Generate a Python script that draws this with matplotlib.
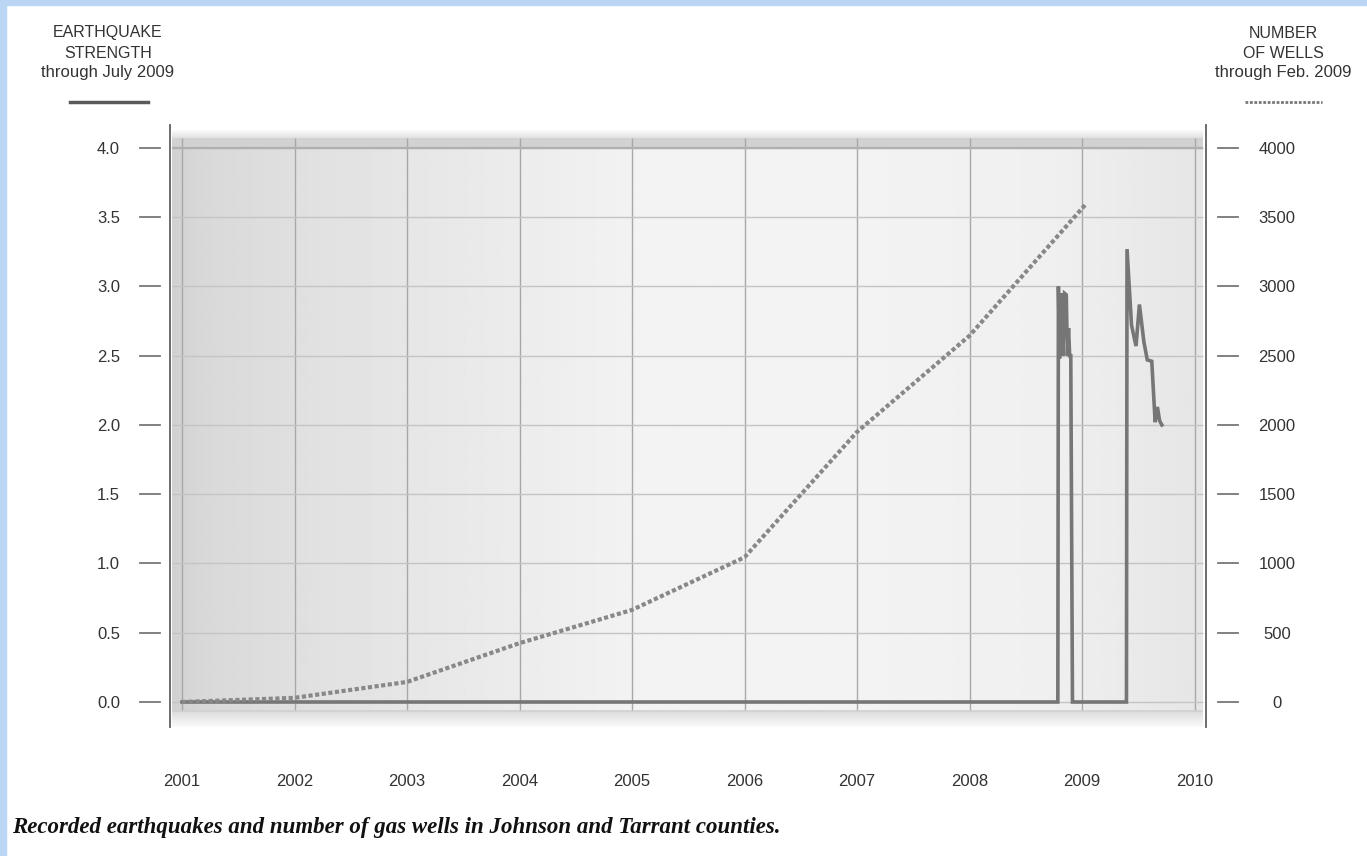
import numpy as np
import matplotlib
matplotlib.use("Agg")
import matplotlib.pyplot as plt
from matplotlib.patches import Rectangle
import matplotlib.transforms as mtransforms

#
# Data
#
well_years = [2001.0, 2002.0, 2003.0, 2004.0, 2005.0, 2006.0, 2007.0, 2008.0, 2009.04]
well_counts = [0, 30, 145, 425, 665, 1045, 1950, 2645, 3600]

quake_t = [2001.0, 2008.785, 2008.79, 2008.80, 2008.815, 2008.83, 2008.845,
           2008.86, 2008.87, 2008.88, 2008.89, 2008.90, 2008.915, 2008.93,
           2009.395, 2009.40, 2009.44, 2009.48, 2009.51, 2009.55, 2009.58,
           2009.62, 2009.65, 2009.67, 2009.69, 2009.71]
quake_m = [0, 0, 3.0, 2.48, 2.95, 2.5, 2.95, 2.94, 2.5, 2.7, 2.5, 2.5, 0, 0,
           0, 3.27, 2.72, 2.57, 2.87, 2.6, 2.47, 2.46, 2.02, 2.13, 2.03, 2.0]

year_ticks = list(range(2001, 2011))
mag_ticks = [0.0, 0.5, 1.0, 1.5, 2.0, 2.5, 3.0, 3.5, 4.0]
well_ticks = [0, 500, 1000, 1500, 2000, 2500, 3000, 3500, 4000]

caption = "Recorded earthquakes and number of gas wells in Johnson and Tarrant counties."

#
# Layout
#
W, H = 1367, 856
fig = plt.figure(figsize=(W / 100, H / 100), dpi=100)
fig.patch.set_facecolor('white')
fig.patches.append(Rectangle((0, 0), 6 / W, 1, transform=fig.transFigure,
                             color='#bad6f4', zorder=-5))
fig.patches.append(Rectangle((0, 1 - 5 / H), 1, 5 / H, transform=fig.transFigure,
                             color='#bad6f4', zorder=-5))

ax = fig.add_axes([170 / W, 1 - 727 / H, (1206 - 170) / W, (727 - 125) / H])
ax.set_xlim(2000.893, 2010.102)
ax.set_ylim(-0.1805, 4.166)
ax.set_facecolor('none')

# gray gradient panel
bx0, bx1, by0, by1 = 2000.915, 2010.075, -0.065, 4.07
prof_x = np.array([0.0, 0.03, 0.15, 0.45, 0.6, 0.85, 1.0])
prof_v = np.array([0.82, 0.85, 0.885, 0.95, 0.955, 0.94, 0.90])
xs = np.linspace(0, 1, 400)
row = np.interp(xs, prof_x, prof_v)
img = np.tile(row, (2, 1))
ax.imshow(img, cmap='gray', vmin=0, vmax=1, extent=[bx0, bx1, by0, by1],
          aspect='auto', zorder=0, interpolation='bilinear')

# soft shadows above and below the panel
sh = np.linspace(0.86, 1.0, 50)[:, None]
ax.imshow(sh, cmap='gray', vmin=0, vmax=1, extent=[bx0, bx1, by0 - 0.13, by0],
          aspect='auto', zorder=0, interpolation='bilinear')
sh2 = np.linspace(1.0, 0.88, 50)[:, None]
ax.imshow(sh2, cmap='gray', vmin=0, vmax=1, extent=[bx0, bx1, by1, by1 + 0.06],
          aspect='auto', zorder=0, interpolation='bilinear')
ax.fill_between([bx0, bx1], 4.0, by1, color='#d2d2d2', zorder=0.5, lw=0)

# grid
ax.vlines(year_ticks, by0, by1, color='#a8a8a8', lw=1.0, zorder=1)
ax.hlines(mag_ticks, bx0, bx1, color='#c4c4c4', lw=1.0, zorder=1)
ax.hlines([4.0], bx0, bx1, color='#b0b0b0', lw=1.6, zorder=1)
ax.hlines([by0], bx0, bx1, color='#d0d0d0', lw=1.2, zorder=1)

# series
ax.plot(quake_t, quake_m, color='#767676', lw=2.6, zorder=4,
        solid_joinstyle='miter')

ax2 = ax.twinx()
ax2.set_ylim(-180.5, 4166)
ax2.plot(well_years, well_counts, color='#888888', lw=3.0, zorder=3,
         linestyle=(0, (1.0, 0.6)))

# spines
for a in (ax, ax2):
    for s in ('top', 'bottom'):
        a.spines[s].set_visible(False)
ax.spines['right'].set_visible(False)
ax2.spines['left'].set_visible(False)
ax.spines['left'].set_color('#606060')
ax.spines['left'].set_linewidth(1.3)
ax2.spines['right'].set_color('#606060')
ax2.spines['right'].set_linewidth(1.3)

# ticks
tick_font = dict(family='Liberation Sans', size=12, color='#333333')
ax.set_yticks(mag_ticks)
ax.set_yticklabels(['%.1f' % v for v in mag_ticks], **tick_font)
ax.tick_params(axis='y', length=0, pad=36)
ax.set_xticks(year_ticks)
ax.set_xticklabels([str(y) for y in year_ticks], **tick_font)
ax.tick_params(axis='x', length=0, pad=34)
ax2.set_yticks(well_ticks)
ax2.set_yticklabels([str(v) for v in well_ticks], **tick_font)
ax2.tick_params(axis='y', length=0, pad=51)
for lab in ax2.get_yticklabels():
    lab.set_horizontalalignment('center')

trl = mtransforms.blended_transform_factory(ax.transAxes, ax.transData)
for v in mag_ticks:
    ax.plot([-0.029, -0.0097], [v, v], transform=trl, color='#777777',
            lw=1.3, clip_on=False)
    ax.plot([1.0116, 1.031], [v, v], transform=trl, color='#777777',
            lw=1.3, clip_on=False)

# headers
hdr = dict(family='Liberation Sans', color='#333333', ha='center', va='center')
fig.text(108 / W, 1 - 33 / H, 'EARTHQUAKE', size=11.5, **hdr)
fig.text(108 / W, 1 - 53 / H, 'STRENGTH', size=11.5, **hdr)
fig.text(108 / W, 1 - 72 / H, 'through July 2009', size=12, **hdr)
fig.lines.append(plt.Line2D([70 / W, 148 / W], [1 - 102 / H, 1 - 102 / H],
                            transform=fig.transFigure, color='#5a5a5a', lw=2.5))
fig.text(1283 / W, 1 - 33 / H, 'NUMBER', size=11.5, **hdr)
fig.text(1283 / W, 1 - 53 / H, 'OF WELLS', size=11.5, **hdr)
fig.text(1283 / W, 1 - 72 / H, 'through Feb. 2009', size=12, **hdr)
fig.lines.append(plt.Line2D([1245 / W, 1322 / W], [1 - 102 / H, 1 - 102 / H],
                            transform=fig.transFigure, color='#777777', lw=2.0,
                            linestyle=(0, (1.0, 0.6))))

fig.text(12 / W, 1 - 828 / H, caption, family='Liberation Serif', style='italic',
         weight='bold', size=16.5, color='#111111', ha='left', va='center')

plt.savefig('out.png', dpi=100)
